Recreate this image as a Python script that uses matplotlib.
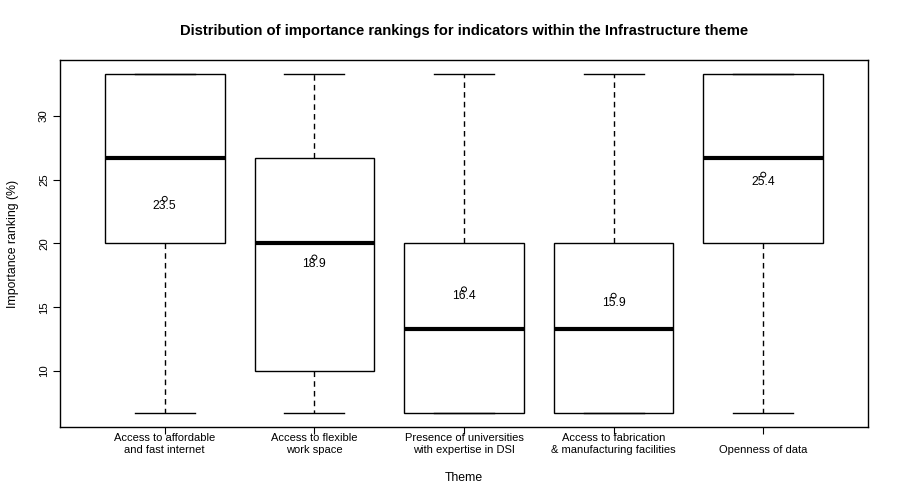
import matplotlib
matplotlib.use("Agg")
import matplotlib.pyplot as plt

plt.rcParams['font.family'] = ['Liberation Sans', 'DejaVu Sans']

categories = ["Access to affordable\nand fast internet",
              "Access to flexible\nwork space",
              "Presence of universities\nwith expertise in DSI",
              "Access to fabrication\n& manufacturing facilities",
              "Openness of data"]
whisker_low = [6.67, 6.67, 6.67, 6.67, 6.67]
q1 = [20.0, 10.0, 6.67, 6.67, 20.0]
medians = [26.67, 20.0, 13.33, 13.33, 26.67]
q3 = [33.33, 26.67, 20.0, 20.0, 33.33]
whisker_high = [33.33, 33.33, 33.33, 33.33, 33.33]
means = [23.5, 18.9, 16.4, 15.9, 25.4]
yticks = [10, 15, 20, 25, 30]

fig = plt.figure(figsize=(9, 4.94), dpi=100)
ax = fig.add_axes([60/900, 1-427/494, 808/900, 367/494])

stats = []
for i in range(len(categories)):
    stats.append(dict(whislo=whisker_low[i], q1=q1[i], med=medians[i],
                      q3=q3[i], whishi=whisker_high[i], fliers=[]))
pos = list(range(1, len(categories)+1))
ax.bxp(stats, positions=pos, widths=0.8, showfliers=False, patch_artist=True,
       boxprops=dict(facecolor='white', edgecolor='black', linewidth=1.0),
       medianprops=dict(color='black', linewidth=3.0, solid_capstyle='butt'),
       whiskerprops=dict(color='black', linewidth=1.0, linestyle=(0, (4, 3))),
       capprops=dict(color='black', linewidth=1.0), capwidths=0.4)

ax.scatter(pos, means, s=13, facecolors='none', edgecolors='black', linewidths=0.7, zorder=5)
for p, m in zip(pos, means):
    ax.annotate(f"{m:.1f}", (p, m), xytext=(0, -5), textcoords='offset points',
                ha='center', va='center', fontsize=8.7, zorder=6)

n = len(categories)
ax.set_xlim(0.5 - 0.04*n, n + 0.5 + 0.04*n)
lo, hi = min(whisker_low), max(whisker_high)
r = hi - lo
ax.set_ylim(lo - 0.04*r, hi + 0.04*r)

# single-line labels sit on the second line, as in the reference
tick_labels = [c if "\n" in c else "\n" + c for c in categories]
ax.set_xticks(pos)
ax.set_xticklabels(tick_labels, fontsize=8, linespacing=1.2)
ax.set_yticks(yticks)
ax.set_yticklabels([str(t) for t in yticks], fontsize=8.2, rotation=90, va='center')
ax.tick_params(axis='both', direction='out', length=5, width=0.8, color='black')
ax.tick_params(axis='x', pad=-0.5)
ax.tick_params(axis='y', pad=3)
for s in ax.spines.values():
    s.set_linewidth(1.0)

ax.set_xlabel("Theme", fontsize=8.8, labelpad=12.5)
ax.set_ylabel("Importance ranking (%)", fontsize=8.8, labelpad=14)
fig.text(464/900, 1-31/494, "Distribution of importance rankings for indicators within the Infrastructure theme",
         ha='center', va='center', fontsize=10.6, fontweight='bold')

fig.savefig("out.png", dpi=100, facecolor='white')
